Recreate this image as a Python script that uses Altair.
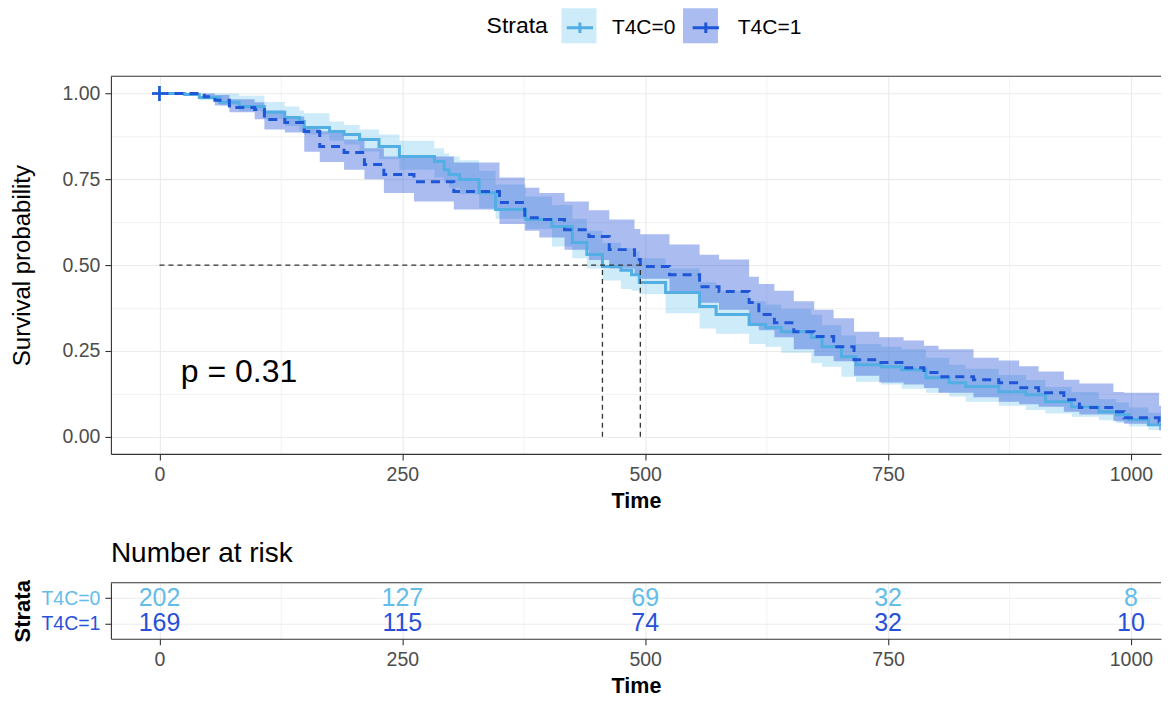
import altair as alt
import pandas as pd

# ---------------- data ----------------
strata_names = ["T4C=0", "T4C=1"]

t0_time = [0, 26, 41, 62, 82, 108, 129, 144, 149, 175, 190, 206, 226, 247, 283, 293, 298, 309, 329, 346,
           377, 404, 425, 440, 456, 475, 486, 494, 521, 556, 573, 607, 624, 640, 671, 682, 702, 717, 743, 764,
           789, 813, 830, 864, 892, 912, 939, 967, 985, 998, 1018, 1036, 1050]
t0_surv = [1.0, 0.997, 0.988, 0.974, 0.962, 0.945, 0.930, 0.918, 0.901, 0.889, 0.880, 0.866, 0.845, 0.816,
           0.802, 0.778, 0.764, 0.749, 0.711, 0.662, 0.633, 0.612, 0.566, 0.531, 0.496, 0.485, 0.472, 0.449,
           0.420, 0.379, 0.356, 0.327, 0.318, 0.306, 0.289, 0.262, 0.233, 0.210, 0.204, 0.195, 0.172, 0.157,
           0.146, 0.131, 0.122, 0.102, 0.087, 0.073, 0.064, 0.050, 0.035, 0.026, 0.020]
t0_lower = [1.0, 0.994, 0.980, 0.965, 0.948, 0.925, 0.905, 0.889, 0.880, 0.862, 0.851, 0.831, 0.808, 0.778,
            0.755, 0.740, 0.725, 0.706, 0.665, 0.635, 0.605, 0.554, 0.520, 0.490, 0.455, 0.430, 0.425, 0.415,
            0.360, 0.315, 0.300, 0.270, 0.262, 0.245, 0.215, 0.204, 0.175, 0.160, 0.152, 0.140, 0.128, 0.117,
            0.102, 0.090, 0.078, 0.068, 0.058, 0.048, 0.040, 0.030, 0.020, 0.012, 0.008]
t0_upper = [1.0, 1.0, 1.0, 1.0, 0.993, 0.975, 0.962, 0.950, 0.942, 0.918, 0.908, 0.895, 0.880, 0.862,
            0.840, 0.825, 0.816, 0.805, 0.775, 0.735, 0.700, 0.675, 0.635, 0.600, 0.565, 0.550, 0.540, 0.520,
            0.490, 0.450, 0.425, 0.395, 0.385, 0.372, 0.355, 0.325, 0.295, 0.270, 0.262, 0.255, 0.230, 0.210,
            0.198, 0.180, 0.165, 0.145, 0.130, 0.110, 0.100, 0.085, 0.070, 0.060, 0.052]

t1_time = [0, 46, 57, 72, 98, 108, 129, 149, 165, 190, 211, 231, 262, 303, 350, 376, 391, 417, 442, 463,
           489, 495, 525, 556, 576, 607, 617, 633, 653, 674, 694, 715, 741, 766, 787, 802, 838, 864, 885, 905,
           931, 947, 982, 993, 1029, 1050]
t1_surv = [1.0, 0.990, 0.980, 0.959, 0.953, 0.924, 0.915, 0.889, 0.845, 0.828, 0.793, 0.764, 0.743, 0.714,
           0.682, 0.638, 0.633, 0.603, 0.583, 0.545, 0.516, 0.496, 0.472, 0.437, 0.423, 0.391, 0.356, 0.332,
           0.306, 0.292, 0.262, 0.224, 0.216, 0.201, 0.187, 0.175, 0.166, 0.157, 0.143, 0.128, 0.108, 0.085,
           0.073, 0.055, 0.044, 0.040]
t1_lower = [1.0, 0.985, 0.965, 0.945, 0.925, 0.895, 0.886, 0.830, 0.800, 0.778, 0.750, 0.710, 0.685, 0.662,
            0.620, 0.600, 0.580, 0.545, 0.515, 0.490, 0.468, 0.460, 0.420, 0.390, 0.370, 0.330, 0.310, 0.290,
            0.255, 0.235, 0.220, 0.178, 0.158, 0.152, 0.142, 0.128, 0.115, 0.102, 0.095, 0.087, 0.073, 0.065,
            0.045, 0.038, 0.018, 0.015]
t1_upper = [1.0, 1.0, 0.995, 0.983, 0.974, 0.950, 0.933, 0.905, 0.890, 0.866, 0.840, 0.816, 0.816, 0.799,
            0.755, 0.725, 0.710, 0.685, 0.660, 0.633, 0.605, 0.590, 0.560, 0.530, 0.516, 0.466, 0.445, 0.425,
            0.395, 0.370, 0.345, 0.306, 0.290, 0.280, 0.265, 0.255, 0.230, 0.222, 0.205, 0.190, 0.166, 0.155,
            0.130, 0.128, 0.090, 0.087]

median_times = [456, 495]
median_level = 0.5
censor_time = [0, 0]
censor_surv = [1.0, 1.0]

risk_times = [0, 250, 500, 750, 1000]
risk_t0 = [202, 127, 69, 32, 8]
risk_t1 = [169, 115, 74, 32, 10]

pval_label = "p = 0.31"
pval_time = 22
pval_surv = 0.19

x_ticks = [0, 125, 250, 375, 500, 625, 750, 875, 1000]
y_ticks = [0, 0.125, 0.25, 0.375, 0.5, 0.625, 0.75, 0.875, 1.0]

# ---------------- styling ----------------
FONT = "Liberation Sans"
W = 1051
H_TOP = 378
H_BOT = 56
line_colors = ["#52AEE3", "#1F56D8"]
band_fills = ["rgba(88,188,232,0.30)", "rgba(35,80,216,0.38)"]
text_colors = ["#62BDE9", "#2850D8"]

km = pd.concat([
    pd.DataFrame({"time": t0_time, "surv": t0_surv, "lower": t0_lower, "upper": t0_upper,
                  "strata": strata_names[0]}),
    pd.DataFrame({"time": t1_time, "surv": t1_surv, "lower": t1_lower, "upper": t1_upper,
                  "strata": strata_names[1]}),
], ignore_index=True)
km["band"] = km["strata"]

censor_df = pd.DataFrame({"time": censor_time, "surv": censor_surv, "strata": strata_names})
hline_df = pd.DataFrame({"time": [0], "time_end": [max(median_times)], "surv": [median_level]})
vline_df = pd.DataFrame({"time": median_times, "surv": [0.0, 0.0], "surv_end": [median_level] * 2})
ptext_df = pd.DataFrame({"time": [pval_time], "surv": [pval_surv], "label": [pval_label]})
risk_df = pd.DataFrame({
    "time": risk_times * 2,
    "strata": [strata_names[0]] * 5 + [strata_names[1]] * 5,
    "n": risk_t0 + risk_t1,
})
one_row = pd.DataFrame({"a": [0]})

x_scale = alt.Scale(domain=[-50, 1031], nice=False, zero=False)
y_scale = alt.Scale(domain=[-0.05, 1.05], nice=False, zero=False)

minor_x = "datum.value % 250 !== 0"
minor_y = "(datum.value * 4) % 1 !== 0"


def x_axis():
    return alt.Axis(
        values=x_ticks, format="d",
        labelExpr=f"{minor_x} ? '' : datum.label",
        tickColor={"condition": {"test": minor_x, "value": "transparent"}, "value": "#333333"},
        gridWidth={"condition": {"test": minor_x, "value": 0.6}, "value": 1.1},
        gridColor="#EBEBEB", domainColor="#333333", domainWidth=1.1,
        tickSize=6, tickWidth=1.1, labelPadding=6, labelFontSize=19.5, labelColor="#4D4D4D",
        title="Time", titleFontSize=21.5, titleFontWeight="bold", titleColor="black", titlePadding=6,
    )


y_axis = alt.Axis(
    values=y_ticks, format=".2f",
    labelExpr=f"{minor_y} ? '' : datum.label",
    tickColor={"condition": {"test": minor_y, "value": "transparent"}, "value": "#333333"},
    gridWidth={"condition": {"test": minor_y, "value": 0.6}, "value": 1.1},
    gridColor="#EBEBEB", domainColor="#333333", domainWidth=1.1,
    tickSize=6, tickWidth=1.1, labelPadding=5, labelFontSize=19.5, labelColor="#4D4D4D",
    title="Survival probability", titleFontSize=24, titleFontWeight="normal", titleColor="black",
    minExtent=71, titlePadding=5,
)

LEG_X = 376          # legend left edge, relative to the plot area
LEG_TITLE_W = 61.4   # width of "Strata" at 23px
LEG_TITLE_PAD = 13
LABEL_W = 63.6       # width of a "T4C=x" legend label at 21px
legend_common = dict(
    orient="none", legendY=-68, direction="horizontal",
    labelFontSize=21, labelOffset=13, symbolSize=1225,
)
# light squares (band key) with the legend title — no labels, gap widened by the label width
fill_legend = alt.Legend(title="Strata", titleColor="black", legendX=LEG_X,
                         titleOrient="left", titleAnchor="middle", titleBaseline="middle",
                         titleFontSize=23, titleFontWeight="normal", titlePadding=LEG_TITLE_PAD,
                         labelExpr="''", columnPadding=10 + LABEL_W,
                         symbolType="square", symbolStrokeWidth=0, **legend_common)
# line + censor cross key with labels, drawn over the squares
stroke_legend = alt.Legend(title=None, legendX=LEG_X + LEG_TITLE_W + LEG_TITLE_PAD,
                           labelColor="black", columnPadding=10,
                           symbolType="M-0.75,0H0.75M0,-0.3V0.3", symbolStrokeWidth=3,
                           symbolFillColor="transparent", **legend_common)

bands = alt.Chart(km).mark_area(interpolate="step-after", clip=True).encode(
    x=alt.X("time:Q", scale=x_scale, axis=x_axis()),
    y=alt.Y("upper:Q", scale=y_scale, axis=y_axis),
    y2="lower:Q",
    fill=alt.Fill("band:N", scale=alt.Scale(range=band_fills), legend=fill_legend),
)

lines = alt.Chart(km).mark_line(interpolate="step-after", clip=True, strokeWidth=3).encode(
    x=alt.X("time:Q", title="Time"),
    y=alt.Y("surv:Q", title="Survival probability"),
    stroke=alt.Stroke("strata:N", scale=alt.Scale(range=line_colors), legend=stroke_legend),
    strokeDash=alt.StrokeDash("strata:N", scale=alt.Scale(range=[[1, 0], [9, 6]]), legend=None),
)

censor = alt.Chart(censor_df).mark_point(
    shape="M-1,0H1M0,-1V1", size=225, strokeWidth=2.5, filled=False, opacity=1
).encode(
    x=alt.X("time:Q", title="Time"),
    y=alt.Y("surv:Q", title="Survival probability"),
    stroke=alt.Stroke("strata:N", legend=stroke_legend),
)

hline = alt.Chart(hline_df).mark_rule(strokeDash=[5, 4], color="#333333", strokeWidth=1.3).encode(
    x=alt.X("time:Q", title="Time"), x2="time_end:Q",
    y=alt.Y("surv:Q", title="Survival probability"),
)
vline = alt.Chart(vline_df).mark_rule(strokeDash=[5, 4], color="#333333", strokeWidth=1.3).encode(
    x=alt.X("time:Q", title="Time"),
    y=alt.Y("surv:Q", title="Survival probability"), y2="surv_end:Q",
)

ptext = alt.Chart(ptext_df).mark_text(align="left", baseline="middle", fontSize=32, color="black").encode(
    x=alt.X("time:Q", title="Time"),
    y=alt.Y("surv:Q", title="Survival probability"),
    text="label:N",
)

top_border = alt.Chart(one_row).mark_rule(color="#333333", strokeWidth=1.1).encode(
    x=alt.value(0), x2=alt.value(W), y=alt.value(0)
)

top = alt.layer(bands, lines, censor, hline, vline, ptext, top_border).properties(width=W, height=H_TOP)

risk_axis_y = alt.Axis(
    title="Strata", titleFontSize=22, titleFontWeight="bold", titleColor="black",
    labelFontSize=19.5,
    labelColor={"condition": {"test": f"datum.value === '{strata_names[0]}'", "value": text_colors[0]},
                "value": text_colors[1]},
    tickSize=6, tickWidth=1.1, tickColor="#333333", domainColor="#333333", domainWidth=1.1,
    grid=True, gridColor="#EBEBEB", gridWidth=1.1, labelPadding=5, minExtent=71, titlePadding=5,
)

risk_text = alt.Chart(risk_df).mark_text(fontSize=25, baseline="middle").encode(
    x=alt.X("time:Q", scale=x_scale, axis=x_axis()),
    y=alt.Y("strata:N", scale=alt.Scale(type="point", padding=0.6, domain=strata_names), axis=risk_axis_y),
    color=alt.Color("strata:N", scale=alt.Scale(domain=strata_names, range=text_colors), legend=None),
    text="n:Q",
)
bot_border = alt.Chart(one_row).mark_rule(color="#333333", strokeWidth=1.1).encode(
    x=alt.value(0), x2=alt.value(W), y=alt.value(0)
)

bottom = alt.layer(risk_text, bot_border).properties(
    width=W, height=H_BOT,
    title=alt.TitleParams("Number at risk", anchor="start", frame="group", fontSize=28,
                          fontWeight="normal", color="black", baseline="alphabetic", offset=-10),
)

chart = alt.vconcat(top, bottom, spacing=27).properties(
    padding={"left": 3, "top": 0, "right": 0, "bottom": 0}
).configure(font=FONT).configure_view(stroke=None)

chart.save("out.html", embed_options={"renderer": "svg", "actions": False})
